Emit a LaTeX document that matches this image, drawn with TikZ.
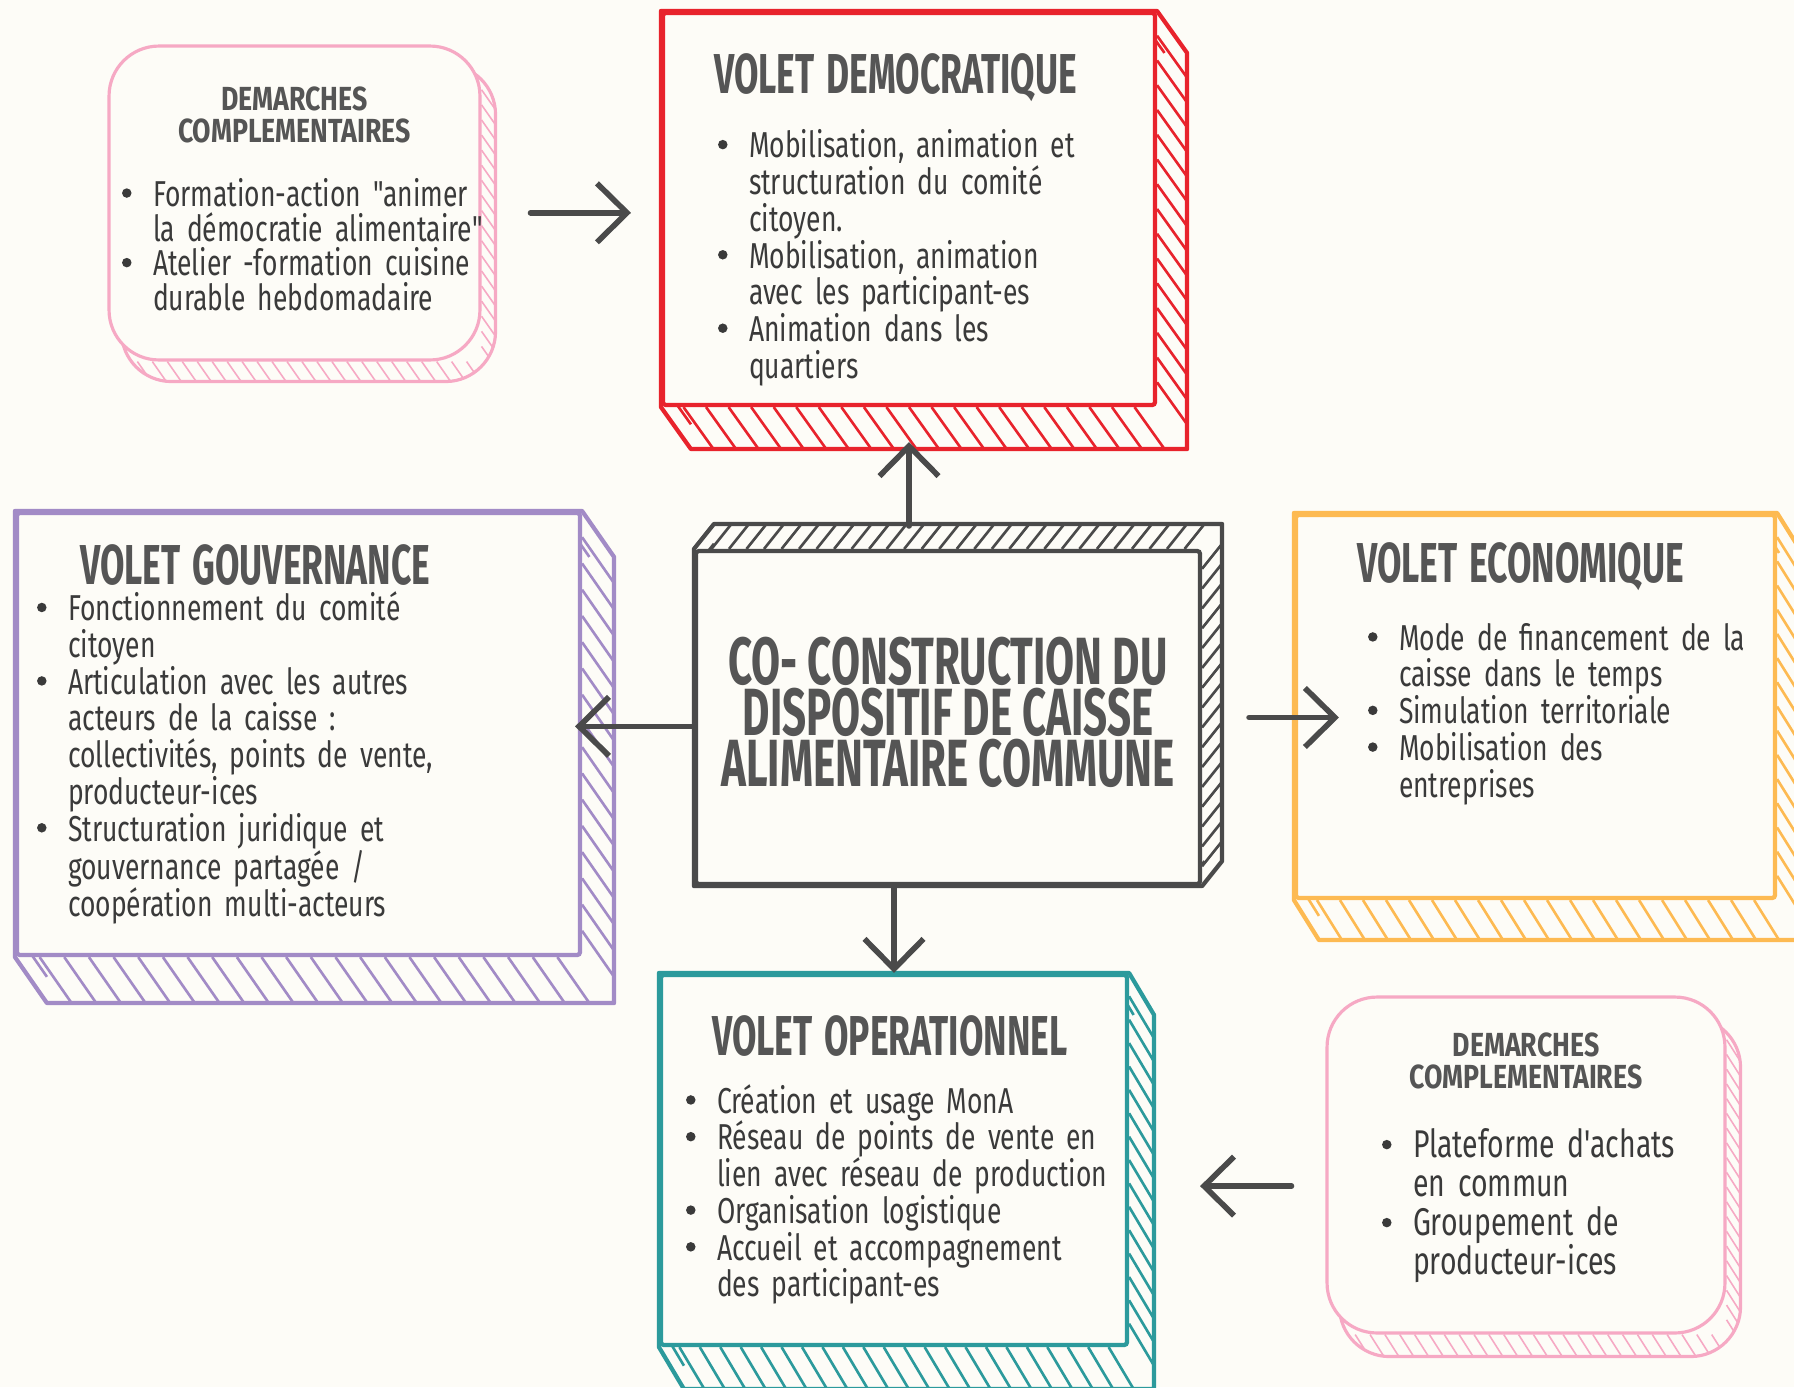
\documentclass[tikz,border=0pt]{standalone}
\usepackage{fontspec}
\newfontfamily\bodyfont[FakeStretch=0.735, WordSpace=0.9]{Fira Sans}
\newfontfamily\headfont[FakeStretch=0.63]{Fira Sans}
\newfontfamily\dheadfont[FakeStretch=0.8]{Fira Sans}
\usetikzlibrary{arrows.meta,calc,positioning}

\definecolor{bg}{HTML}{FDFCF7}
\definecolor{ink}{HTML}{3A3A3A}
\definecolor{title}{HTML}{555555}
\definecolor{coregray}{HTML}{4A4A4A}
\definecolor{redv}{HTML}{E8232C}
\definecolor{purplev}{HTML}{A28BC6}
\definecolor{orangev}{HTML}{FDBA52}
\definecolor{tealv}{HTML}{2C9A9C}
\definecolor{pinkv}{HTML}{F6A9C4}

\pgfdeclarelayer{back}
\pgfsetlayers{back,main}

\newsavebox\dotbox
% bullet item with hanging indent, \\ breaks the line only
\newcommand\itm[1]{\par\rightskip=0pt plus 1fil minus 4cm\relax
  \hyphenpenalty=10000 \exhyphenpenalty=10000
  \hangindent=0.62cm\hangafter=1\noindent
  \makebox[0.62cm][l]{\raisebox{0.17cm}{\usebox\dotbox}}{\let\\\newline #1}}
% box titles: indent, strut height, text
\newcommand\head[3]{{\headfont\bfseries\color{title}\fontsize{32}{32}\selectfont\hspace*{#1}\rule{0pt}{#2}#3\par}}
\newcommand\dhead[1]{{\centering\dheadfont\bfseries\color{title}\fontsize{19}{18.2}\selectfont #1\par}}
\newcommand\pad[1]{\rule[-#1]{0pt}{0pt}}

% hatching of the sides
\newcommand\hatches[5]{%
  \foreach \k [evaluate=\k as \t using \k/(#4+1)] in {1,...,#4} {
    \draw[hatch] ($(#1.north west)!\t!(#1.north east)$) -- ++(#2,#3);
    \draw[hatch] ($(#1.south west)!\t!(#1.south east)$) -- ++(#2,#3);}
  \foreach \k [evaluate=\k as \t using \k/(#5+1)] in {1,...,#5} {
    \draw[hatch] ($(#1.north west)!\t!(#1.south west)$) -- ++(#2,#3);
    \draw[hatch] ($(#1.north east)!\t!(#1.south east)$) -- ++(#2,#3);}}
\newcommand\slabbody[6]{%
  \begin{pgfonlayer}{back}
    \begin{scope}[#2]
      \fill[bg] \hull;
      \begin{scope}\clip \hull; \hatches{#1}{#3}{#4}{#5}{#6}\end{scope}
      \draw[line join=round] \hull;
    \end{scope}
  \end{pgfonlayer}}
% 3d slab behind a box: node, look, dx, dy, hatches across, hatches down
\newcommand\slab[6]{%
  \ifdim #4pt>0pt \def\pa{north west}\def\pb{north east}\def\pc{south east}\def\pd{south west}%
  \else \def\pa{south west}\def\pb{north west}\def\pc{north east}\def\pd{south east}\fi
  \def\hull{(#1.\pa) -- (#1.\pb) -- ([shift={(#3,#4)}]#1.\pb) -- ([shift={(#3,#4)}]#1.\pc)
    -- ([shift={(#3,#4)}]#1.\pd) -- (#1.\pd) -- cycle}%
  \slabbody{#1}{#2}{#3}{#4}{#5}{#6}}
\newcommand\blobslab[6]{%
  \def\hull{([shift={(#3,#4)}]#1.north west) rectangle ([shift={(#3,#4)}]#1.south east)}%
  \slabbody{#1}{#2}{#3}{#4}{#5}{#6}}

\begin{document}
\sbox\dotbox{\pgfpicture\pgfpathcircle{\pgfpointorigin}{0.095cm}\pgfsetfillcolor{ink}\pgfusepath{fill}\endpgfpicture}%
\begin{tikzpicture}[x=0.02cm, y=-0.02cm,
    volet/.style={draw=#1, fill=bg, line width=2.4pt, rounded corners=1.5pt, inner sep=0pt},
    demarche/.style={draw=pinkv, fill=bg, line width=1.8pt, rounded corners=1cm, inner sep=0pt},
    body/.style={text width=#1, align=left, text=ink, font=\bodyfont\fontsize{20.5}{20.9}\selectfont},
    hatch/.style={line width=1.5pt},
    arr/.style={-{Straight Barb[length=0.6cm,width=1.18cm]}, draw=coregray, line width=3.2pt, line cap=round}]
  \begin{pgfonlayer}{back}
    \fill[bg] (0,0) rectangle (1794,1387);
  \end{pgfonlayer}
  \useasboundingbox (0,0) rectangle (1794,1387);

  % centre
  \node[volet=coregray, align=center, text=title,
        font=\headfont\bfseries\fontsize{38}{29}\selectfont,
        minimum width=10.08cm, minimum height=6.66cm] (core) at (948,717.5)
        {CO- CONSTRUCTION DU\\ DISPOSITIF DE CAISSE\\ ALIMENTAIRE COMMUNE\pad{0.24cm}};

  % the four volets
  \node[volet=redv, body=7.64cm, minimum width=9.84cm, minimum height=7.84cm] (dem) at (909,209) {%
    \head{-0.08cm}{1.22cm}{VOLET DEMOCRATIQUE}\vspace{0.56cm}
    \itm{Mobilisation, animation et\\ structuration du comité\\ citoyen.}
    \itm{Mobilisation, animation\\ avec les participant-es}
    \itm{Animation dans les\\ quartiers}\par};
  \node[volet=purplev, body=10.46cm, minimum width=11.26cm, minimum height=8.84cm] (gov) at (298.5,734) {%
    \head{0.86cm}{0pt}{VOLET GOUVERNANCE}
    \itm{Fonctionnement du comité\\ citoyen}
    \itm{Articulation avec les autres\\ acteurs de la caisse :\\ collectivités, points de vente,\\ producteur-ices}
    \itm{Structuration juridique et\\ gouvernance partagée /\\ coopération multi-acteurs}\par};
  \node[volet=orangev, body=6.7cm, minimum width=9.58cm, minimum height=7.66cm] (eco) at (1535.5,706.5) {%
    \head{-0.22cm}{0pt}{VOLET ECONOMIQUE}\vspace{0.62cm}
    \itm{Mode de financement de la\\ caisse dans le temps}
    \itm{Simulation territoriale}
    \itm{Mobilisation des\\ entreprises}\par\mbox{}\par\mbox{}\par};
  \node[volet=tealv, body=8.32cm, minimum width=9.32cm, minimum height=7.4cm] (ope) at (894,1160) {%
    \head{0.52cm}{0pt}{VOLET OPERATIONNEL}\vspace{0.42cm}
    \itm{Création et usage MonA}
    \itm{Réseau de points de vente en\\ lien avec réseau de production}
    \itm{Organisation logistique}
    \itm{Accueil et accompagnement\\ des participant-es}\par};

  % demarches complementaires
  \node[demarche, body=6.9cm, minimum width=7.42cm, minimum height=6.28cm,
        font=\bodyfont\fontsize{20.5}{19.8}\selectfont] (dem1) at (294.5,203) {%
    \dhead{DEMARCHES\\ COMPLEMENTAIRES}\vspace{0.59cm}
    \itm{Formation-action "animer\\ la démocratie alimentaire"}
    \itm{Atelier -formation cuisine\\ durable hebdomadaire\pad{0.18cm}}\par};
  \node[demarche, body=5.76cm, minimum width=7.96cm, minimum height=6.72cm,
        font=\bodyfont\fontsize{22}{22.2}\selectfont] (dem2) at (1526,1165) {%
    \dhead{DEMARCHES\\ COMPLEMENTAIRES}\vspace{0.6cm}
    \itm{Plateforme d'achats\\ en commun}
    \itm{Groupement de\\ producteur-ices\pad{0.44cm}}\par};

  % sides
  \slab{core}{coregray, line width=2.4pt}{20}{-25}{28}{16}
  \slab{dem}{redv, line width=2.4pt}{30}{42}{21}{15}
  \slab{gov}{purplev, line width=2.4pt}{32}{46}{22}{16}
  \slab{eco}{orangev, line width=2.4pt}{25}{40}{20}{15}
  \slab{ope}{tealv, line width=2.4pt}{25}{42}{22}{15}
  \blobslab{dem1}{pinkv, line width=1.8pt, rounded corners=1cm, hatch/.style={line width=0.9pt}}{14}{20}{24}{20}
  \blobslab{dem2}{pinkv, line width=1.8pt, rounded corners=1cm, hatch/.style={line width=0.9pt}}{14}{22}{26}{22}

  % arrows
  \draw[arr, shorten <=0.46cm, shorten >=0.7cm] (core.north -| dem.south) -- (dem.south);
  \draw[arr, shorten >=-0.14cm] (core.182) -- (core.182 -| gov.east);
  \draw[arr, shorten <=0.94cm, shorten >=-0.9cm] (core.east) -- (core.east -| eco.west);
  \draw[arr] (core.south -| ope.north) -- (ope.north);
  \draw[arr, shorten <=0.98cm, shorten >=0.6cm] (dem1.357) -- (dem1.357 -| dem.west);
  \draw[arr, shorten <=0.68cm, shorten >=1.42cm] (dem2.186) -- (dem2.186 -| ope.east);
\end{tikzpicture}
\end{document}
